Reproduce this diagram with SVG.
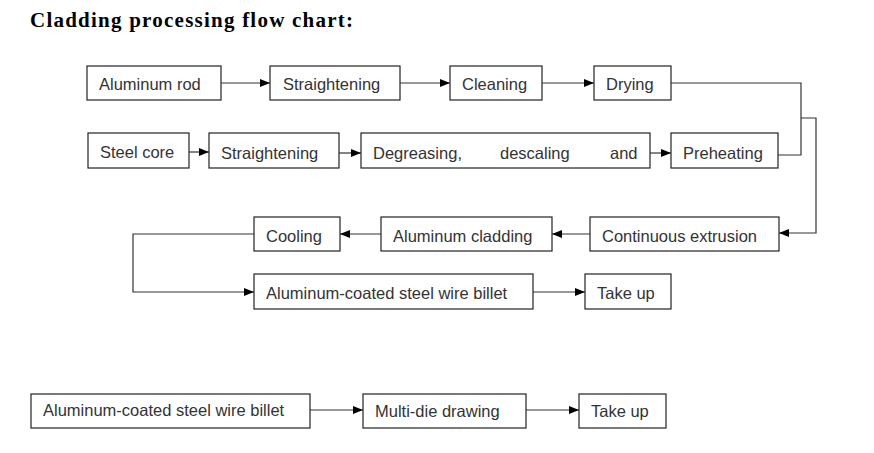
<svg xmlns="http://www.w3.org/2000/svg" width="874" height="453" viewBox="0 0 874 453">
<defs><marker id="a" markerWidth="10" markerHeight="8" refX="10" refY="4" orient="auto" markerUnits="userSpaceOnUse"><path d="M0,0L10,4L0,8z" fill="#000"/></marker></defs>
<style>
rect{fill:#fff;stroke:#222;stroke-width:1.2}
text{font-family:"Liberation Sans",Arial,sans-serif;font-size:16.5px;fill:#333}
.c path{fill:none;stroke:#333;stroke-width:1.2}
.c .m{marker-end:url(#a)}
</style>
<rect width="874" height="453" style="stroke:none"/>
<text x="30" y="27" textLength="323" style="font-family:'Liberation Serif',serif;font-weight:bold;font-size:21px;fill:#000">Cladding processing flow chart:</text>
<g id="n1"><rect x="87" y="66" width="134" height="34"/><text x="99" y="90">Aluminum rod</text></g>
<g id="n2"><rect x="270" y="66" width="130" height="34"/><text x="283" y="90">Straightening</text></g>
<g id="n3"><rect x="450" y="66" width="92" height="34"/><text x="462" y="90">Cleaning</text></g>
<g id="n4"><rect x="594" y="66" width="77" height="34"/><text x="606" y="90">Drying</text></g>
<g id="n5"><rect x="88" y="133" width="101" height="35"/><text x="100" y="158">Steel core</text></g>
<g id="n6"><rect x="209" y="133" width="130" height="35"/><text x="221" y="159">Straightening</text></g>
<g id="n7"><rect x="361" y="133" width="289" height="35"/><text x="373" y="159">Degreasing,</text><text x="500" y="159">descaling</text><text x="610" y="159">and</text></g>
<g id="n8"><rect x="671" y="133" width="107" height="35"/><text x="683" y="159">Preheating</text></g>
<g id="n9"><rect x="254" y="217" width="86" height="34"/><text x="266" y="242">Cooling</text></g>
<g id="n10"><rect x="381" y="217" width="171" height="34"/><text x="393" y="242">Aluminum cladding</text></g>
<g id="n11"><rect x="590" y="217" width="189" height="34"/><text x="602" y="242">Continuous extrusion</text></g>
<g id="n12"><rect x="254" y="274" width="279" height="35"/><text x="266" y="299">Aluminum-coated steel wire billet</text></g>
<g id="n13"><rect x="585" y="274" width="86" height="35"/><text x="597" y="299">Take up</text></g>
<g id="n14"><rect x="31" y="394" width="279" height="34"/><text x="43" y="416">Aluminum-coated steel wire billet</text></g>
<g id="n15"><rect x="363" y="394" width="163" height="34"/><text x="375" y="417">Multi-die drawing</text></g>
<g id="n16"><rect x="579" y="394" width="87" height="34"/><text x="591" y="417">Take up</text></g>
<g class="c">
<path class="m" d="M221,83H270"/>
<path class="m" d="M400,83H450"/>
<path class="m" d="M542,83H594"/>
<path d="M671,83H801V155H778"/>
<path class="m" d="M801,118H816V233H779"/>
<path class="m" d="M189,152H209"/>
<path class="m" d="M339,153H361"/>
<path class="m" d="M650,153H671"/>
<path class="m" d="M590,234H552"/>
<path class="m" d="M381,234H340"/>
<path class="m" d="M254,234H133V292H254"/>
<path class="m" d="M533,292H585"/>
<path class="m" d="M310,410H363"/>
<path class="m" d="M526,410H579"/>
</g>
</svg>
